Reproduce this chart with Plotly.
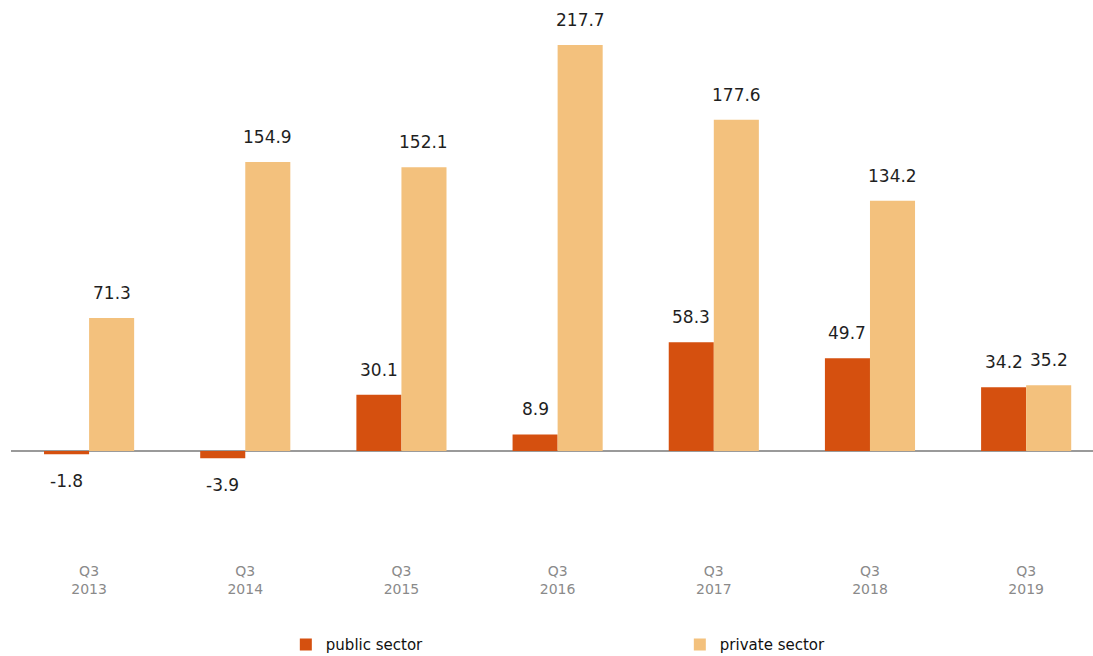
import plotly.graph_objects as go

categories = ["Q3<br>2013", "Q3<br>2014", "Q3<br>2015", "Q3<br>2016", "Q3<br>2017", "Q3<br>2018", "Q3<br>2019"]
public_sector = [-1.8, -3.9, 30.1, 8.9, 58.3, 49.7, 34.2]
private_sector = [71.3, 154.9, 152.1, 217.7, 177.6, 134.2, 35.2]

PUBLIC_COLOR = "#D5500F"
PRIVATE_COLOR = "#F3C17D"
LABEL_FONT = dict(family="DejaVu Sans", size=17, color="#1f1f1f")

fig = go.Figure()
fig.add_trace(go.Bar(name="public sector", x=categories, y=public_sector,
                     marker=dict(color=PUBLIC_COLOR, line=dict(width=0))))
fig.add_trace(go.Bar(name="private sector", x=categories, y=private_sector,
                     marker=dict(color=PRIVATE_COLOR, line=dict(width=0))))

annotations = []
for series, shift in ((public_sector, -22.5), (private_sector, 22.5)):
    for cat, v in zip(categories, series):
        annotations.append(dict(
            x=cat, y=v, xref="x", yref="y", text=f"{v:.1f}", showarrow=False,
            xshift=shift, yshift=25 if v >= 0 else -27, yanchor="middle",
            font=LABEL_FONT))

fig.update_layout(
    width=1093, height=656,
    margin=dict(l=11, r=0, t=0, b=100),
    paper_bgcolor="white", plot_bgcolor="white",
    barmode="group", bargap=0.423, bargroupgap=0,
    annotations=annotations,
    showlegend=True,
    legend=dict(orientation="h", x=0.254, xanchor="left",
                yref="container", y=0.017, yanchor="middle",
                entrywidth=349, font=dict(family="DejaVu Sans", size=15, color="#111111"),
                traceorder="normal"),
    xaxis=dict(range=[-0.5, 6.428], showgrid=False, showline=False, ticks="",
               tickfont=dict(family="DejaVu Sans", size=14, color="#8a8a8a"),
               ticklabelstandoff=5, fixedrange=True),
    yaxis=dict(range=[-56.3, 241.8], showgrid=False, showticklabels=False,
               zeroline=True, zerolinecolor="#9a9a9a", zerolinewidth=1.5,
               showline=False, ticks="", fixedrange=True),
)

fig.write_html("out.html", config={"displayModeBar": False},
               post_script="document.body.style.margin='0';")
